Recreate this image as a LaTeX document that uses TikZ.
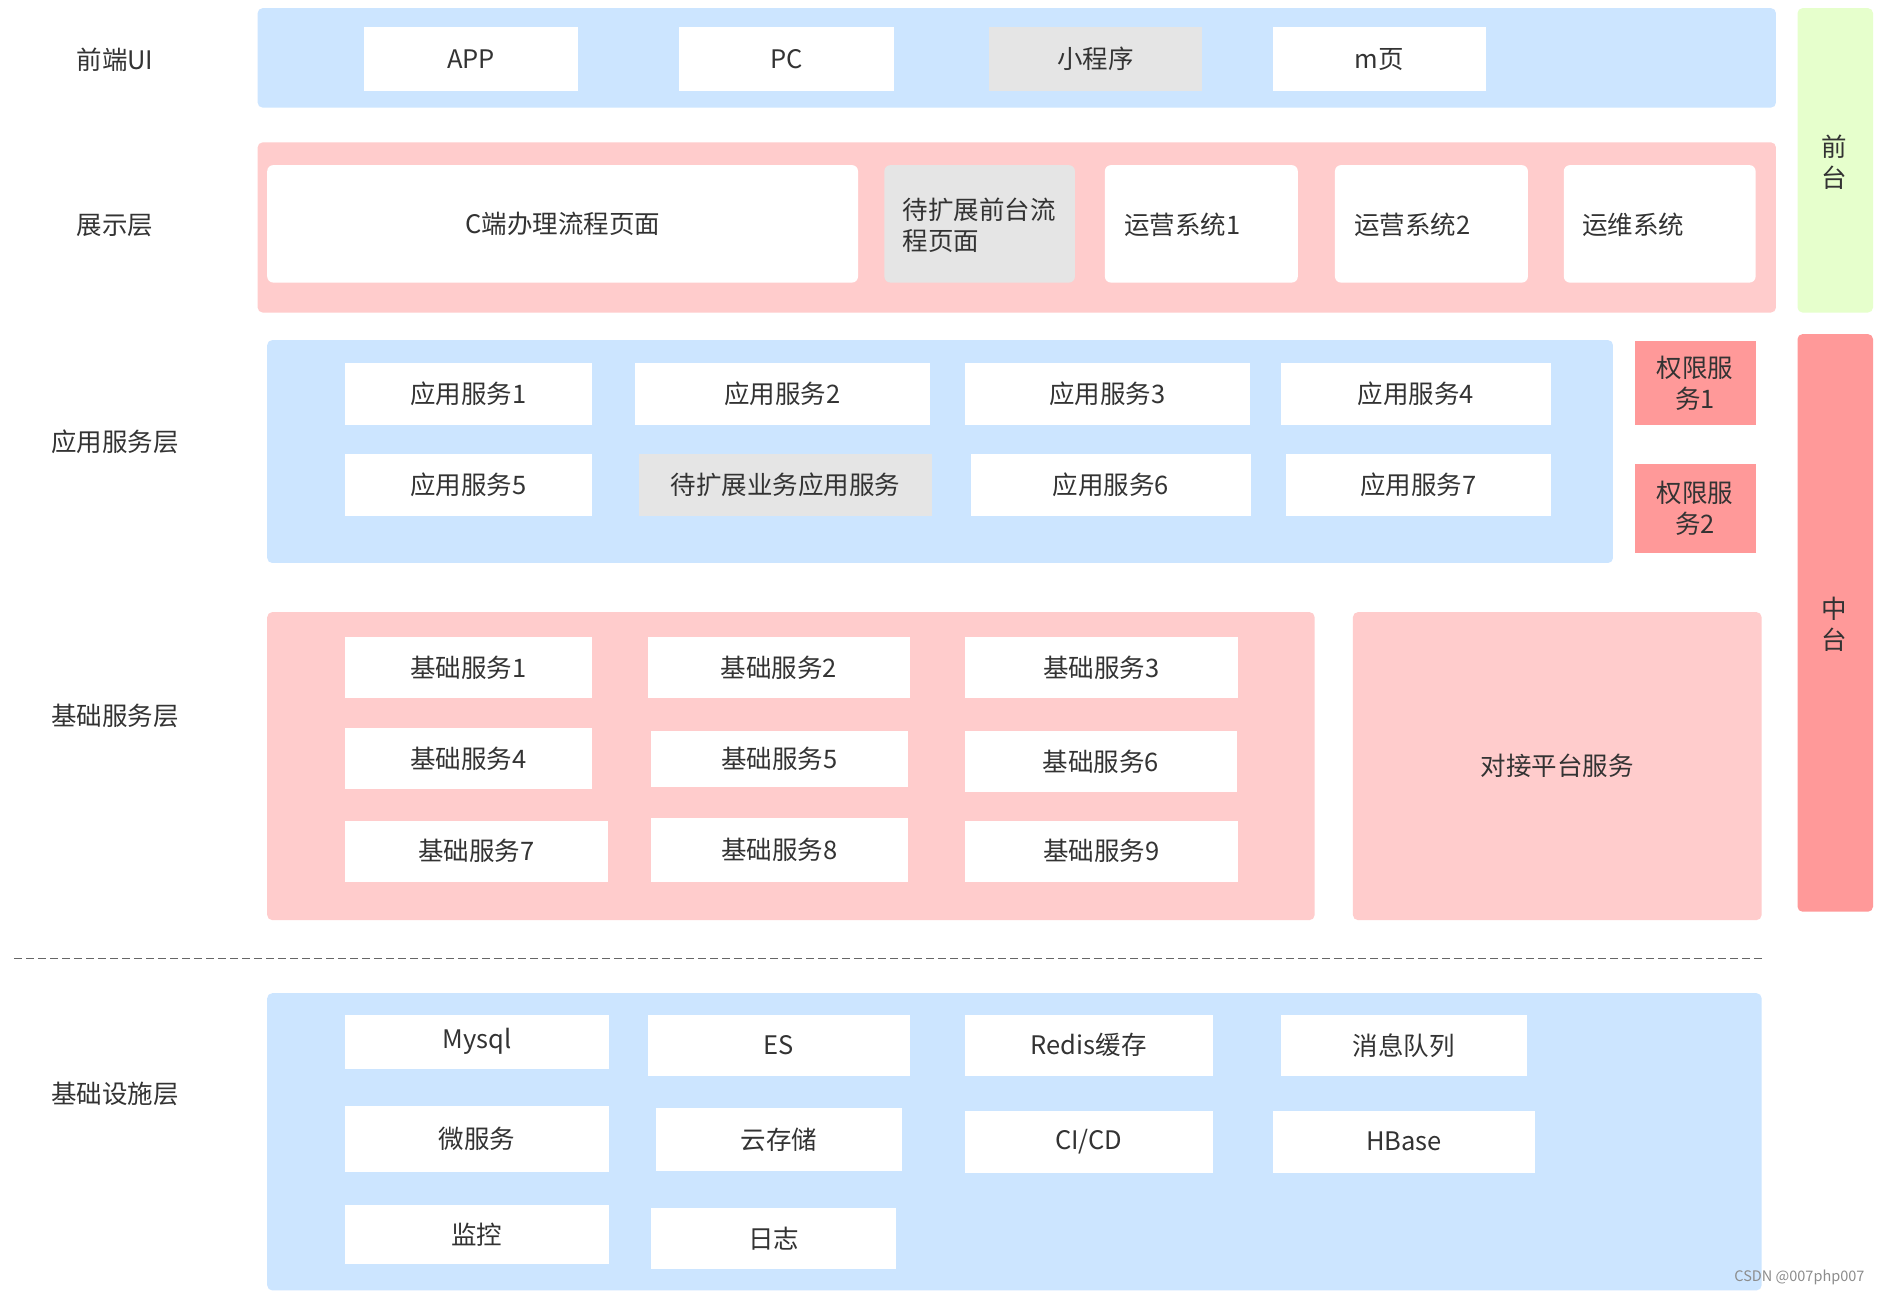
\documentclass[tikz,border=0pt]{standalone}
\usepackage{fontspec}
\setmainfont{Noto Sans CJK SC}
\definecolor{bandblue}{HTML}{CCE5FF}
\definecolor{bandpink}{HTML}{FFCCCC}
\definecolor{bandgreen}{HTML}{E6FFCC}
\definecolor{bandred}{HTML}{FF9999}
\definecolor{boxgray}{HTML}{E5E5E5}
\definecolor{txtcol}{HTML}{333333}
\newcommand\bx[7][]{%
  \node[box,#1,minimum width={(#5-#3)*1.1983pt},minimum height={(#6-#4)*1.1983pt}] (#2) at ({(#3+#5)/2},{(#4+#6)/2+0.8}) {#7};}
\begin{document}
\begin{tikzpicture}[x=1.1983pt,y=-1.1983pt,
  box/.style={rectangle,inner sep=0pt,draw=none,fill=white,text=txtcol,align=center,
    font=\fontsize{25.5}{31}\selectfont},
  band/.style={rounded corners=5pt},
  blueband/.style={band,fill=bandblue},
  pinkband/.style={band,fill=bandpink},
  white/.style={fill=white},
  rwhite/.style={fill=white,rounded corners=6pt},
  gray/.style={fill=boxgray},
  rgray/.style={fill=boxgray,rounded corners=6pt},
  redbox/.style={fill=bandred},
  lbl/.style={text=txtcol,inner sep=0pt,font=\fontsize{25.5}{31}\selectfont,align=center}]
\useasboundingbox (0,0) rectangle (1568,1081);
\fill[white] (0,0) rectangle (1568,1081);

% layer labels
\node[lbl] (L1) at (96,50) {前端UI};
\node[lbl] (L2) at (96,188) {展示层};
\node[lbl] (L3) at (96,369) {应用服务层};
\node[lbl] (L4) at (96,597) {基础服务层};
\node[lbl] (L5) at (96,913) {基础设施层};

% front-end UI
\bx[blueband]{bandUI}{215}{6}{1482}{89}{}
\bx[white]{app}{304}{22}{482}{75}{APP}
\bx[white]{pc}{567}{22}{746}{75}{PC}
\bx[gray]{mini}{825}{22}{1003}{75}{小程序}
\bx[white]{mpage}{1062}{22}{1240}{75}{m页}

% presentation layer
\bx[pinkband]{bandShow}{215}{118}{1482}{260}{}
\bx[rwhite]{cpage}{223}{137}{716}{235}{C端办理流程页面}
\bx[rgray]{extpage}{738}{137}{897}{235}{}
\node[lbl,anchor=west,align=left] (extpageT) at (753,188) {待扩展前台流\\程页面};
\bx[rwhite]{ops1}{922}{137}{1083}{235}{}
\node[lbl,anchor=west] (ops1T) at (938,188) {运营系统1};
\bx[rwhite]{ops2}{1114}{137}{1275}{235}{}
\node[lbl,anchor=west] (ops2T) at (1130,188) {运营系统2};
\bx[rwhite]{ops3}{1305}{137}{1465}{235}{}
\node[lbl,anchor=west] (ops3T) at (1320,188) {运维系统};

% side bars
\bx[band,fill=bandgreen]{qiantai}{1500}{6}{1563}{260}{}
\node[lbl] (qiantaiT) at (1531,135) {前\\台};
\bx[band,fill=bandred]{zhongtai}{1500}{278}{1563}{760}{}
\node[lbl] (zhongtaiT) at (1531,521) {中\\台};

% application service layer
\bx[blueband]{bandApp}{223}{283}{1346}{469}{}
\bx[white]{as1}{288}{302}{494}{354}{应用服务1}
\bx[white]{as2}{530}{302}{776}{354}{应用服务2}
\bx[white]{as3}{805}{302}{1043}{354}{应用服务3}
\bx[white]{as4}{1069}{302}{1294}{354}{应用服务4}
\bx[white]{as5}{288}{378}{494}{430}{应用服务5}
\bx[gray]{asx}{533}{378}{778}{430}{待扩展业务应用服务}
\bx[white]{as6}{810}{378}{1044}{430}{应用服务6}
\bx[white]{as7}{1073}{378}{1294}{430}{应用服务7}
\bx[redbox]{perm1}{1364}{284}{1465}{354}{权限服\\务1}
\bx[redbox]{perm2}{1364}{386}{1465}{461}{权限服\\务2}

% basic service layer
\bx[pinkband]{bandBase}{223}{510}{1097}{767}{}
\bx[white]{bs1}{288}{531}{494}{582}{基础服务1}
\bx[white]{bs2}{541}{531}{759}{582}{基础服务2}
\bx[white]{bs3}{805}{531}{1033}{582}{基础服务3}
\bx[white]{bs4}{288}{607}{494}{658}{基础服务4}
\bx[white]{bs5}{543}{609}{758}{656}{基础服务5}
\bx[white]{bs6}{805}{609}{1032}{660}{基础服务6}
\bx[white]{bs7}{288}{684}{507}{735}{基础服务7}
\bx[white]{bs8}{543}{682}{758}{735}{基础服务8}
\bx[white]{bs9}{805}{684}{1033}{735}{基础服务9}
\bx[pinkband]{dock}{1129}{510}{1470}{767}{对接平台服务}

% dashed separator
\coordinate (sepA) at (12,800);
\coordinate (sepB) at (1472,800);
\draw[color=black!60,line width=1.2pt,dash pattern=on 8pt off 4pt] (sepA) -- (sepB);

% infrastructure layer
\bx[blueband]{bandInfra}{223}{828}{1470}{1076}{}
\bx[white]{mysql}{288}{846}{508}{891}{Mysql}
\bx[white]{es}{541}{846}{759}{897}{ES}
\bx[white]{redis}{805}{846}{1012}{897}{Redis缓存}
\bx[white]{mq}{1069}{846}{1274}{897}{消息队列}
\bx[white]{micro}{288}{922}{508}{977}{微服务}
\bx[white]{cloud}{547}{924}{753}{976}{云存储}
\bx[white]{cicd}{805}{926}{1012}{978}{CI/CD}
\bx[white]{hbase}{1062}{926}{1281}{978}{HBase}
\bx[white]{monitor}{288}{1005}{508}{1054}{监控}
\bx[white]{logs}{543}{1007}{748}{1058}{日志}

% watermark
\node[anchor=east,inner sep=0pt,text=black!45,font=\fontsize{14.5}{16}\selectfont] (wm) at (1556,1066) {CSDN @007php007};
\end{tikzpicture}
\end{document}
